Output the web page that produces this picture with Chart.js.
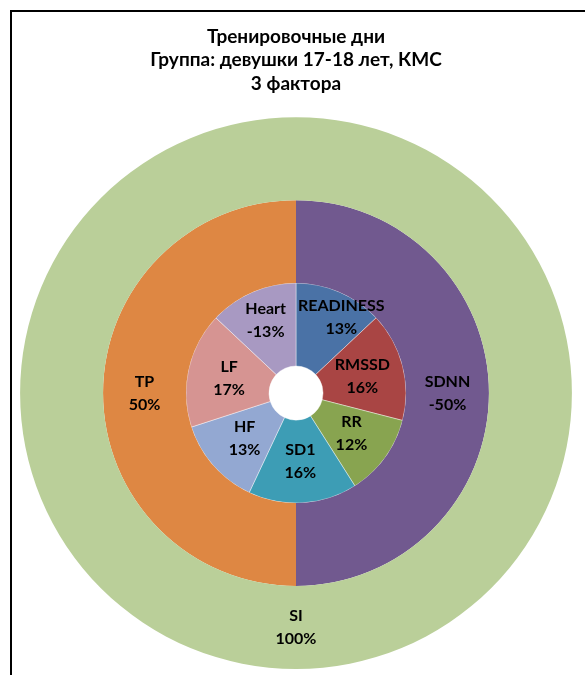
<!DOCTYPE html>
<html>
<head>
<meta charset="utf-8">
<script src="https://cdn.jsdelivr.net/npm/chart.js@4/dist/chart.umd.min.js"></script>
<style>
html,body{margin:0;padding:0;background:#fff;}
#wrap{position:absolute;left:0;top:0;width:585px;height:675px;}
</style>
</head>
<body>
<div id="wrap"><canvas id="c" width="585" height="675"></canvas></div>
<script>
const titleLines = ["Тренировочные дни", "Группа: девушки 17-18 лет, КМС", "3 фактора"];

const outerLabels = ["SI"];
const outerValues = [100];
const outerColors = ["#BACF99"];

const middleLabels = ["SDNN", "TP"];
const middleValues = [-50, 50];
const middleColors = ["#71598F", "#DE8743"];

const innerLabels = ["READINESS", "RMSSD", "RR", "SD1", "HF", "LF", "Heart"];
const innerValues = [13, 16, 12, 16, 13, 17, -13];
const innerColors = ["#4A72A6", "#A94544", "#88A450", "#3D9DB5", "#93A8D2", "#D69492", "#A899C2"];

const ringLabels = [outerLabels, middleLabels, innerLabels];
const ringValues = [outerValues, middleValues, innerValues];

const frame = {
  id: 'frame',
  beforeDraw(chart) {
    const ctx = chart.ctx;
    ctx.save();
    ctx.fillStyle = '#fff';
    ctx.fillRect(0, 0, chart.width, chart.height);
    ctx.strokeStyle = '#000';
    ctx.lineWidth = 2;
    ctx.beginPath();
    ctx.moveTo(11, chart.height + 2);
    ctx.lineTo(11, 11);
    ctx.lineTo(chart.width + 2, 11);
    ctx.stroke();
    ctx.restore();
  }
};

const sliceLabels = {
  id: 'sliceLabels',
  afterDatasetsDraw(chart) {
    const ctx = chart.ctx;
    ctx.save();
    ctx.font = 'bold 16px Lato, "Open Sans", sans-serif';
    ctx.fillStyle = '#000';
    ctx.textAlign = 'center';
    ctx.textBaseline = 'middle';
    chart.data.datasets.forEach((ds, di) => {
      const meta = chart.getDatasetMeta(di);
      meta.data.forEach((arc, j) => {
        const p = arc.tooltipPosition();
        let x = p.x, y = p.y;
        const name = ringLabels[di][j];
        const val = ringValues[di][j] + '%';
        const w = Math.max(ctx.measureText(name).width, ctx.measureText(val).width);
        const cx = arc.x, cy = arc.y;
        // keep top labels clear of the vertical dividing line (Excel-like fit)
        if (meta.data.length > 2 && y < cy) {
          if (x > cx && x - w / 2 < cx + 2) { x = cx + 2 + w / 2; y -= 13; }
          else if (x < cx && x + w / 2 > cx - 8) { x = cx - 10 - w / 2; y -= 10; }
        }
        ctx.fillText(name, x, y - 11.5);
        ctx.fillText(val, x, y + 11.5);
      });
    });
    ctx.restore();
  }
};

new Chart(document.getElementById('c'), {
  type: 'doughnut',
  data: {
    labels: innerLabels,
    datasets: [
      { data: outerValues.map(Math.abs), backgroundColor: outerColors, borderWidth: 0 },
      { data: middleValues.map(Math.abs), backgroundColor: middleColors, borderWidth: 0 },
      { data: innerValues.map(Math.abs), backgroundColor: innerColors, borderWidth: 0.75, borderColor: 'rgba(255,255,255,0.55)' }
    ]
  },
  options: {
    responsive: false,
    animation: false,
    cutout: '9.8%',
    layout: { padding: { left: 20, right: 13, top: 0, bottom: 6 } },
    plugins: {
      legend: { display: false },
      tooltip: { enabled: false },
      title: {
        display: true,
        text: titleLines,
        color: '#000',
        font: { family: 'Lato, "Open Sans", sans-serif', size: 19, weight: 'bold', lineHeight: 1.24 },
        padding: { top: 24.75, bottom: 21.75 }
      }
    }
  },
  plugins: [frame, sliceLabels]
});
</script>
</body>
</html>
